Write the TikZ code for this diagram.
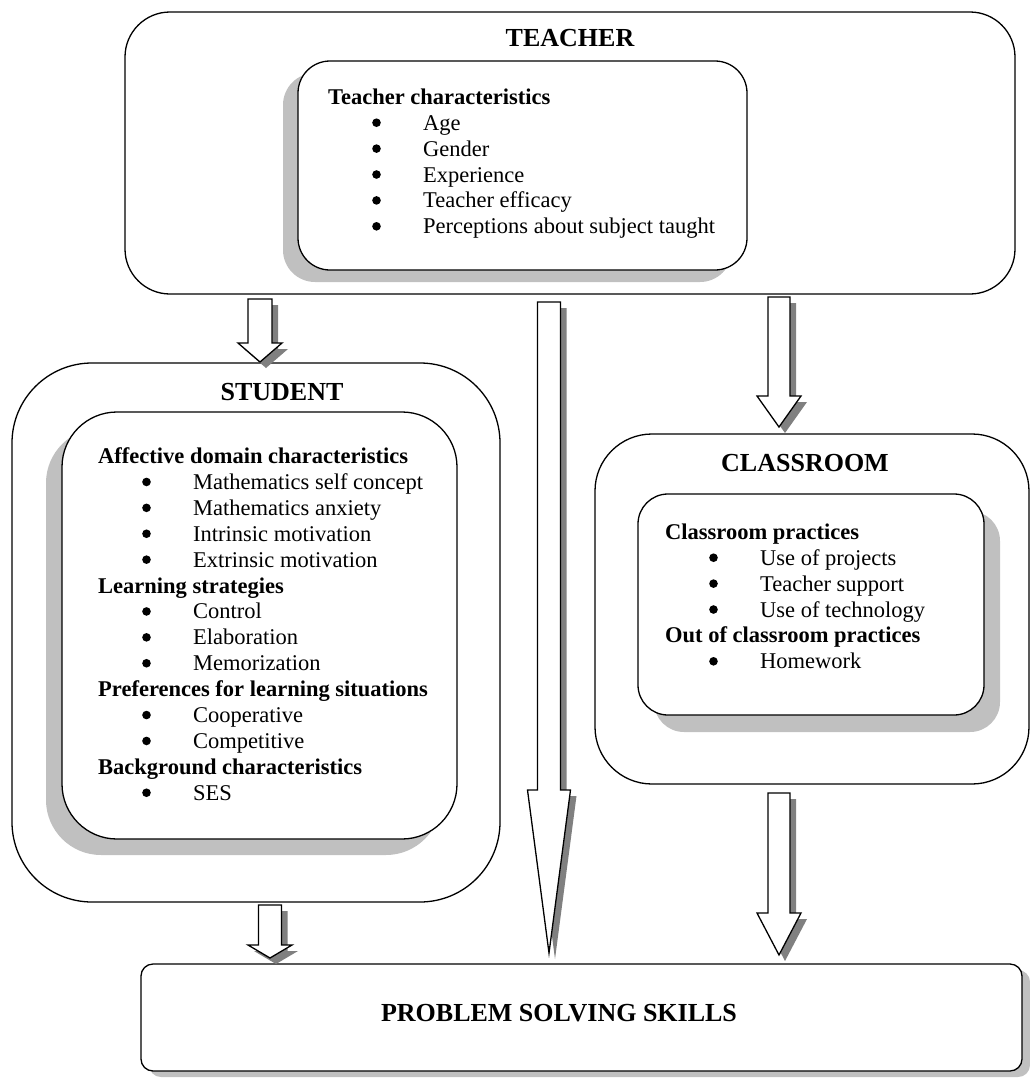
\documentclass[tikz,border=0pt]{standalone}
\usepackage{fontspec}
\setmainfont{Liberation Serif}
\usetikzlibrary{shadows}
\definecolor{boxshade}{HTML}{C0C0C0}
\definecolor{arrowshade}{HTML}{808080}

\newcommand{\dotmark}{\tikz[baseline=-7.5pt]\fill (0,0) circle (4.3pt);}
\newcommand{\itm}[1]{\makebox[44pt]{}\makebox[51pt][l]{\dotmark}#1}
\newcommand{\blockarrow}[6]{%
\fill[arrowshade,shift={(6,6)}] ({#1-#5},#2) -- ({#1+#5},#2) -- ({#1+#5},#3) -- ({#1+#6},#3) -- (#1,#4) -- ({#1-#6},#3) -- ({#1-#5},#3) -- cycle;
\draw[arrowbody] ({#1-#5},#2) -- ({#1+#5},#2) -- ({#1+#5},#3) -- ({#1+#6},#3) -- (#1,#4) -- ({#1-#6},#3) -- ({#1-#5},#3) -- cycle;}

\begin{document}
\begin{tikzpicture}
[x=1pt,y=-1pt,
outerbox/.style={draw,line width=1.3pt,fill=white,rectangle},
innerbox/.style={draw,line width=1.3pt,fill=white,rectangle},
title/.style={font=\fontsize{26}{30}\selectfont\bfseries},
listtext/.style={font=\fontsize{22.5}{25.9}\selectfont,align=left,anchor=north west,inner sep=0pt},
arrowbody/.style={draw=black,fill=white,line width=1.3pt,line join=miter}]
\useasboundingbox (0,0) rectangle (1030,1079);
\fill[white] (0,0) rectangle (1030,1079);
\node[outerbox,rounded corners=45pt,minimum width=890pt,minimum height=282pt] (teacher) at (570,153) {};
\node[outerbox,rounded corners=80pt,minimum width=488pt,minimum height=539pt] (student) at (256,632.5) {};
\node[outerbox,rounded corners=57pt,minimum width=434pt,minimum height=350pt] (classroom) at (812,609) {};
\node[outerbox,rounded corners=12pt,minimum width=881pt,minimum height=107pt,
drop shadow={shadow xshift=8pt,shadow yshift=-6pt,fill=boxshade,opacity=1}] (problem) at (581.5,1017.5) {};
\node[innerbox,rounded corners=32pt,minimum width=449pt,minimum height=209pt,
drop shadow={shadow xshift=-15pt,shadow yshift=-12pt,fill=boxshade,opacity=1}] (teacherin) at (522.5,165.5) {};
\node[innerbox,rounded corners=55pt,minimum width=395pt,minimum height=427pt,
drop shadow={shadow xshift=-16pt,shadow yshift=-16pt,fill=boxshade,opacity=1}] (studentin) at (259.5,625.5) {};
\node[innerbox,rounded corners=30pt,minimum width=346pt,minimum height=221pt,
drop shadow={shadow xshift=16pt,shadow yshift=-17pt,fill=boxshade,opacity=1}] (classroomin) at (811,604.5) {};
\node[title] (teachertitle) at (570,38) {TEACHER};
\node[title] (studenttitle) at (282,392) {STUDENT};
\node[title] (classroomtitle) at (805,463) {CLASSROOM};
\node[title] (problemtitle) at (559,1013) {PROBLEM SOLVING SKILLS};
\node[listtext] (teacherlist) at (328,88.5) {\textbf{Teacher characteristics}\\
\itm{Age}\\ \itm{Gender}\\ \itm{Experience}\\ \itm{Teacher efficacy}\\
\itm{Perceptions about subject taught}};
\node[listtext] (studentlist) at (98,447.5) {\textbf{Affective domain characteristics}\\
\itm{Mathematics self concept}\\ \itm{Mathematics anxiety}\\
\itm{Intrinsic motivation}\\ \itm{Extrinsic motivation}\\
\textbf{Learning strategies}\\
\itm{Control}\\ \itm{Elaboration}\\ \itm{Memorization}\\
\textbf{Preferences for learning situations}\\
\itm{Cooperative}\\ \itm{Competitive}\\
\textbf{Background characteristics}\\
\itm{SES}};
\node[listtext] (classroomlist) at (665,523.5) {\textbf{Classroom practices}\\
\itm{Use of projects}\\ \itm{Teacher support}\\ \itm{Use of technology}\\
\textbf{Out of classroom practices}\\
\itm{Homework}};
\blockarrow{260}{299}{343}{362}{12}{22}
\blockarrow{549}{302}{790}{953}{11.5}{21.5}
\blockarrow{779}{297}{396}{427}{11}{22}
\blockarrow{779}{793}{913}{955}{11}{22}
\blockarrow{270}{905}{945}{958}{11.5}{22}
\end{tikzpicture}
\end{document}
